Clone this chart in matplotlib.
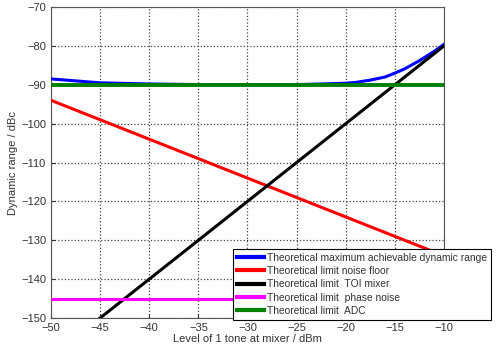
import matplotlib
matplotlib.use("Agg")
import matplotlib.pyplot as plt

# Data
x_lines = [-50, -10]
noise_floor = [-94, -134]
x_toi = [-45, -10]
toi_mixer = [-150, -80]
phase_noise = [-145, -145]
adc = [-90, -90]
x_max = [-50, -45, -40, -35, -30, -25, -22.5, -20, -19, -17.5, -16, -15, -14, -12.5, -11, -10]
max_dr = [-88.5, -89.5, -89.8, -89.95, -89.98, -89.95, -89.8, -89.6, -89.4, -88.8,
          -88.0, -87.0, -85.9, -83.8, -81.4, -79.6]

labels = ["Theoretical maximum achievable dynamic range",
          "Theoretical limit noise floor",
          "Theoretical limit  TOI mixer",
          "Theoretical limit  phase noise",
          "Theoretical limit  ADC"]

plt.rcParams['font.family'] = ['Liberation Sans', 'DejaVu Sans']

fig = plt.figure(figsize=(5.0, 3.51), dpi=100)
ax = fig.add_axes([0.102, 0.094, 0.786, 0.886])

lw = 2.2
ax.plot(x_max, max_dr, color=(0, 0, 1), lw=lw, label=labels[0], zorder=3)
ax.plot(x_lines, noise_floor, color=(1, 0, 0), lw=lw, label=labels[1], zorder=3)
ax.plot(x_toi, toi_mixer, color='black', lw=lw, label=labels[2], zorder=3)
ax.plot(x_lines, phase_noise, color=(1, 0, 1), lw=lw, label=labels[3], zorder=3)
ax.plot(x_lines, adc, color=(0, 0.5, 0), lw=lw + 0.6, label=labels[4], zorder=3)

ax.set_xlim(-50, -10)
ax.set_ylim(-150, -70)
ax.set_xticks(range(-50, -9, 5))
ax.set_yticks(range(-150, -69, 10))
ax.grid(True, color='#444444', linestyle=':', linewidth=0.9)
ax.tick_params(labelsize=8, colors='#333333', direction='in', length=3)
for s in ax.spines.values():
    s.set_color('#555555')
ax.set_xlabel("Level of 1 tone at mixer / dBm", fontsize=8, color='#333333', labelpad=1)
ax.set_ylabel("Dynamic range / dBc", fontsize=8, color='#333333', labelpad=2)

leg = ax.legend(loc='upper left', bbox_to_anchor=(0.466, 0.291), bbox_transform=fig.transFigure,
                fontsize=7.4, frameon=True, fancybox=False, framealpha=1, edgecolor='black',
                handlelength=2.6, handletextpad=0.3, labelspacing=0.32, borderpad=0.38,
                borderaxespad=0)
leg.get_frame().set_linewidth(0.8)
for line in leg.get_lines():
    line.set_linewidth(3)
for t in leg.get_texts():
    t.set_color('#333333')

fig.savefig("out.png", dpi=100)
